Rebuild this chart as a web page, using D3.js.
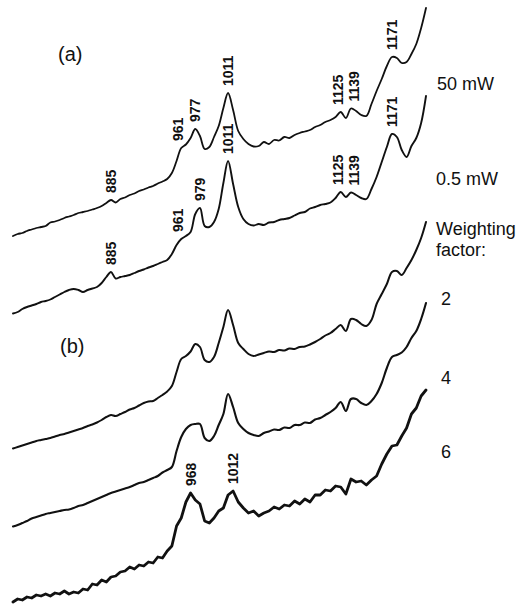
<html>
<head>
    <title>Stacked Raman spectra</title>
    <style>
        body { margin: 0; background: white; }
        text { font-family: "Liberation Sans", Arial, sans-serif; fill: #111; }
        .trace { fill: none; stroke: #111; stroke-linejoin: round; stroke-linecap: round; }
        .peak { font-weight: bold; }
    </style>
    <script src="https://cdn.jsdelivr.net/npm/d3@7"></script>
</head>
<body>
<div id="chart"></div>
<script>
    // wavenumber grid (cm-1), every 5 from 780 to 1205
    var wavenumbers = d3.range(780, 1206, 5);

    // intensities (arbitrary units, relative to each trace's baseline)
    var mw50 = [3, 5, 6, 8, 9.5, 11, 12, 13, 16.5, 17.5,
        19, 21, 22.5, 24, 26, 27, 28, 29.5, 31, 33,
        36, 39, 36.5, 40, 41.5, 44, 45.5, 48, 49.5, 51.5,
        53, 55.5, 57.5, 60, 66, 78, 91, 94.5, 101, 110,
        103, 90, 92, 102, 113, 131, 146, 129, 108, 100,
        95, 92.5, 93, 97, 95, 99, 98.5, 102, 101, 104,
        106, 107.5, 109, 112, 114, 117, 119, 122, 127, 121,
        130.5, 128, 124, 123, 135, 148, 160, 173, 182, 181,
        176, 177, 185, 195, 211, 231];
    var mw05 = [0.5, 2, 5, 7, 8.5, 10, 12, 13, 14.5, 17,
        19.5, 22, 24, 25, 24, 22, 24, 25.5, 27, 31,
        37, 42, 35.5, 37, 38, 39, 41, 43, 44.5, 46.5,
        48, 50, 52, 54, 60, 69, 75, 78, 82, 100,
        106, 88, 87, 92, 105, 131, 153, 130, 107, 95,
        90, 88.5, 90, 89, 91.5, 92, 94, 95, 96, 98.5,
        101, 102, 105.5, 107, 109, 110, 111.5, 116, 122, 117,
        121.5, 119, 116, 115, 125, 137, 152, 167, 180, 177,
        164, 157, 168, 176, 191, 218];
    var weight2 = [0.5, 2, 3.5, 5, 6.5, 8, 9, 10, 11, 12.5,
        14, 15, 16.5, 18, 19.5, 21, 23, 24.5, 26.5, 29,
        32, 34, 33, 35, 37, 39.5, 41, 43.5, 46, 47.5,
        48, 51, 54, 57.5, 63, 77, 90, 93, 97.5, 105,
        102, 89, 87, 92, 106, 122, 139, 124, 106, 100,
        95, 93, 94.5, 96, 97.5, 97, 99, 98.5, 100.5, 100,
        102, 102.5, 104.5, 107, 110, 113.5, 116, 120, 124, 118,
        130, 129, 125, 123, 129, 145, 155, 165, 177, 178,
        174, 181, 189, 199, 211, 227];
    var weight4 = [2.5, 4, 6, 8, 10.5, 12, 13.5, 15, 16, 17,
        18, 19, 19.5, 21, 23, 24, 26, 28, 30, 32,
        34, 36, 37.5, 39, 40.5, 42, 44, 46, 47, 49,
        51, 53, 56.5, 59, 62, 78, 92, 100, 104, 105,
        105, 91, 88, 93, 104, 115, 135, 122, 106, 100,
        96, 94, 93, 96, 97.5, 99.5, 99, 101.5, 101, 104,
        104, 106.5, 106, 109.5, 111, 114, 117, 121, 127, 118,
        130, 130, 126, 124, 128, 135, 146, 161, 172, 174,
        176.5, 182, 191, 198, 210, 226];
    var weight6 = [2, 5, 4, 7, 6, 9, 8, 10, 8, 11,
        10, 13, 10, 12, 11, 15, 14, 20, 19, 24,
        22, 27, 28, 32, 33, 37, 35, 39, 38, 42,
        41, 47, 46, 53, 58, 78, 86, 102, 111, 104,
        100, 83, 81, 86, 93, 96, 109, 113, 102, 96,
        91, 93, 88, 91, 93, 97, 95, 99, 98, 103,
        100, 105, 102, 109, 109, 114, 113, 118, 117, 110,
        125, 122, 123, 119, 124, 128, 140, 150, 158, 159,
        168, 176, 190, 196, 208, 214];

    var traces = [mw50, mw05, weight2, weight4, weight6];
    var offsets = [365, 290, 155, 75, 0];
    var strokeWidths = [1.8, 1.9, 2, 2.1, 2.8];

    // [trace, wavenumber of the peak on the grid, label]
    var peakLabels = [
        [0, 885, '885'], [0, 960, '961'], [0, 975, '977'], [0, 1010, '1011'],
        [0, 1120, '1125'], [0, 1130, '1139'], [0, 1170, '1171'],
        [1, 885, '885'], [1, 960, '961'], [1, 980, '979'], [1, 1010, '1011'],
        [1, 1120, '1125'], [1, 1130, '1139'], [1, 1170, '1171'],
        [4, 970, '968'], [4, 1015, '1012']
    ];

    var sideLabels = ['50 mW', '0.5 mW', 'Weighting', 'factor:', '2', '4', '6'];

    var width = 528, height = 604;

    var svg = d3.select('#chart')
            .append('svg')
            .attr('width', width)
            .attr('height', height);

    svg.append('rect')
            .attr('width', width)
            .attr('height', height)
            .attr('fill', 'white');

    // the recorded axis is not quite linear, so the scale is pinned at the labelled peaks
    var x = d3.scaleLinear()
            .domain([780, 885, 1011, 1171, 1205])
            .range([13, 111, 229, 393, 426]);

    var y = d3.scaleLinear()
            .domain([0, 600])
            .range([height, 4]);

    traces.forEach(function(values, t) {
        var line = d3.line()
                .x(function(d, i) { return x(wavenumbers[i]); })
                .y(function(d) { return y(d + offsets[t]); })
                .curve(t < 4 ? d3.curveCatmullRom.alpha(0.5) : d3.curveLinear);

        svg.append('path')
                .datum(values)
                .attr('class', 'trace')
                .attr('stroke-width', strokeWidths[t])
                .attr('d', line);
    });

    var nudge = { '1125': -3, '1139': 3, '961': -3 };

    svg.selectAll('text.peak')
            .data(peakLabels)
        .enter().append('text')
            .attr('class', 'peak')
            .attr('transform', function(d) {
                var i = wavenumbers.indexOf(d[1]);
                var px = x(d[1]) + (nudge[d[2]] || 0);
                var py = y(traces[d[0]][i] + offsets[d[0]]) - 7;
                return 'translate(' + px + ',' + py + ') rotate(-90)';
            })
            .attr('dy', '0.35em')
            .style('font-size', '14px')
            .text(function(d) { return d[2]; });

    svg.append('text')
            .attr('x', 58).attr('y', 61)
            .style('font-size', '20px')
            .text('(a)');

    svg.append('text')
            .attr('x', 60).attr('y', 353)
            .style('font-size', '20px')
            .text('(b)');

    var sideX = [437, 436, 436, 436, 441, 441, 441];
    var sideY = [90, 185, 235, 256, 305, 384, 458];

    svg.selectAll('text.side')
            .data(sideLabels)
        .enter().append('text')
            .attr('class', 'side')
            .attr('x', function(d, i) { return sideX[i]; })
            .attr('y', function(d, i) { return sideY[i]; })
            .style('font-size', '18px')
            .text(function(d) { return d; });
</script>
</body>
</html>
